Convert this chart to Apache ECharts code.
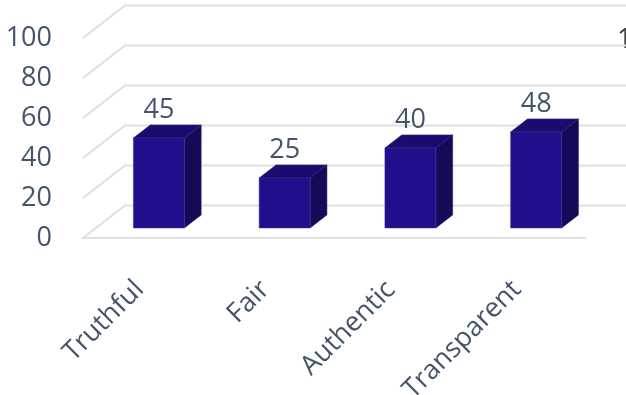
<!DOCTYPE html>
<html>
<head>
<meta charset="utf-8">
<script src="https://cdn.jsdelivr.net/npm/echarts@6/dist/echarts.min.js"></script>
<style>html,body{margin:0;padding:0;background:#fff;}#c{width:626px;height:395px;}</style>
</head>
<body>
<div id="c"></div>
<script>
const categories = ['Truthful', 'Fair', 'Authentic', 'Transparent'];
const values = [45, 25, 40, 48];
const yTicks = [0, 20, 40, 60, 80, 100];

const DX = 42, DY = -32.5;     // depth of the 3D floor in pixels
const F0 = 0.31, F1 = 0.71;    // bar depth placement (fraction)
const BAR_W = 0.405;           // bar width as fraction of band
const TXT = '#44546A';
const FONT = 'Open Sans';

const chart = echarts.init(document.getElementById('c'));
chart.setOption({
  backgroundColor: '#ffffff',
  animation: false,
  grid: { left: 83, right: 40, top: 38, bottom: 157, containLabel: false, outerBoundsMode: 'none' },
  xAxis: {
    type: 'category', data: categories,
    axisLine: { show: false }, axisTick: { show: false },
    axisLabel: { rotate: 45, margin: 41, fontSize: 27, color: TXT, fontFamily: FONT, interval: 0, padding: [0, 9, 0, 0] }
  },
  yAxis: {
    type: 'value', min: 0, max: 100, interval: 20,
    axisLine: { show: false }, axisTick: { show: false }, splitLine: { show: false },
    axisLabel: { fontSize: 27, color: TXT, fontFamily: FONT, margin: 31, padding: [9, 0, 0, 0] }
  },
  graphic: [
    { type: 'text', left: 617, top: 27, style: { text: '100', fontSize: 27, fontFamily: FONT, fill: '#404040' } }
  ],
  series: [
    {
      type: 'custom', clip: false, silent: true, z: 1,
      data: yTicks.map(v => [0, v]),
      renderItem: function (params, api) {
        const v = api.value(1);
        const p = api.coord([0, v]);
        const bw = api.size([1, 0])[0];
        const x0 = p[0] - bw / 2;
        const x1 = x0 + bw * categories.length;
        const y = p[1];
        const pts = v === 0
          ? [[x1, y], [x0, y], [x0 + DX, y + DY], [x1 + DX, y + DY]]
          : [[x0, y], [x0 + DX, y + DY], [x1 + DX, y + DY]];
        return { type: 'polyline', shape: { points: pts }, style: { stroke: '#DDE1E6', lineWidth: 2, fill: null } };
      }
    },
    {
      type: 'custom', clip: false, z: 3,
      data: values.map((v, i) => [i, v]),
      renderItem: function (params, api) {
        const i = api.value(0), v = api.value(1);
        const b = api.coord([i, 0]);
        const t = api.coord([i, v]);
        const bw = api.size([1, 0])[0];
        const w = bw * BAR_W;
        const fx = b[0] - w / 2 + DX * F0;
        const by = b[1] + DY * F0;
        const ty = t[1] + DY * F0;
        const ddx = DX * (F1 - F0), ddy = DY * (F1 - F0);
        return {
          type: 'group',
          children: [
            { type: 'polygon', shape: { points: [[fx + w, ty], [fx + w + ddx, ty + ddy], [fx + w + ddx, by + ddy], [fx + w, by]] },
              style: { fill: '#140A58', stroke: '#2A2270', lineWidth: 0.6 } },
            { type: 'polygon', shape: { points: [[fx, ty], [fx + w, ty], [fx + w + ddx, ty + ddy], [fx + ddx, ty + ddy]] },
              style: { fill: '#190C6E', stroke: '#2A2270', lineWidth: 0.6 } },
            { type: 'rect', shape: { x: fx, y: ty, width: w, height: by - ty },
              style: { fill: '#1F0F8A', stroke: '#3A33A0', lineWidth: 0.6 } },
            { type: 'text', x: fx + w / 2, y: ty - 28,
              style: { text: String(v), fontSize: 27, fontFamily: FONT, fill: TXT, align: 'center', verticalAlign: 'middle' } }
          ]
        };
      }
    }
  ]
});
</script>
</body>
</html>
